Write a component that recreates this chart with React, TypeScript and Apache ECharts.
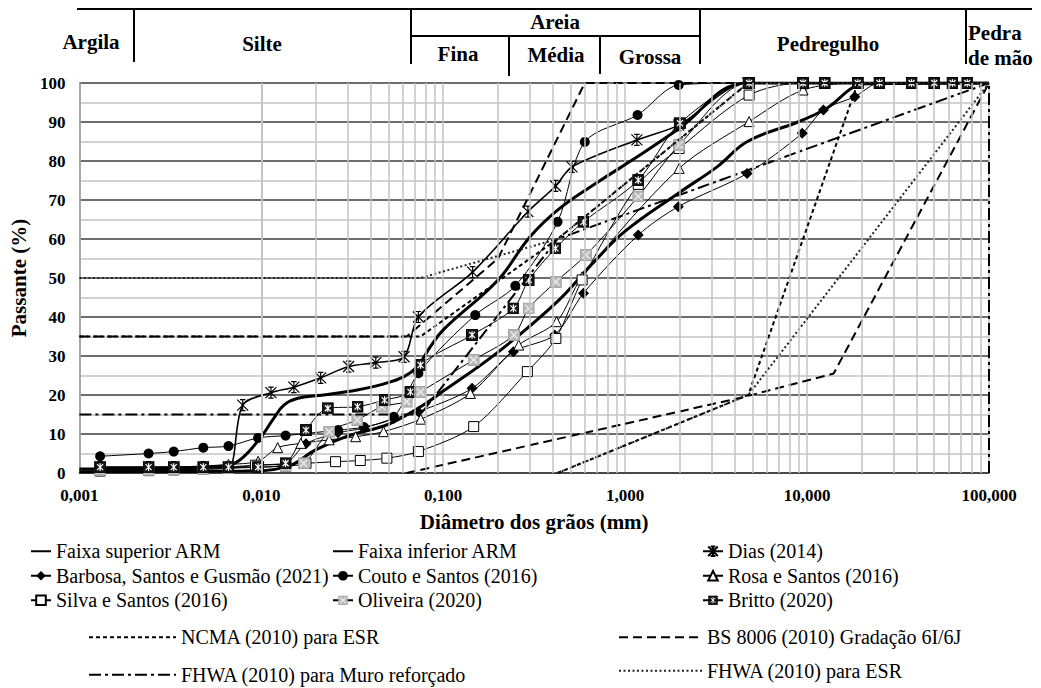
import React, { useEffect, useRef } from 'react';
import * as echarts from 'echarts';

const FONT = 'Liberation Serif';

// ---------- data: [diameter (mm), passing (%)] ----------
const faixaSuperior = [
  [0.001, 1], [0.003, 1.2], [0.0055, 1.6], [0.0072, 2.6], [0.0095, 8], [0.0117, 14], [0.0133, 17.4],
  [0.0157, 19.1], [0.022, 20], [0.0337, 21.3], [0.0451, 22.6], [0.0609, 24.7], [0.072, 27.3],
  [0.085, 32.4], [0.1, 36.7], [0.2, 49.5], [0.3, 60.6], [0.44, 68], [0.73, 75], [1.16, 81],
  [1.94, 88], [4.7, 100], [100, 100],
];
const faixaInferior = [
  [0.001, 0.3], [0.008, 0.5], [0.0136, 1.5], [0.02, 6], [0.03, 9.5], [0.05, 12.5], [0.075, 17],
  [0.1, 21], [0.2, 31], [0.425, 44], [0.67, 54], [1.0, 62], [2.0, 72], [3.2, 78.5], [4.7, 85],
  [8.9, 90], [12.3, 93], [21.4, 99.8], [100, 100],
];
const dias = [
  [0.0013, 1.5], [0.0024, 1.5], [0.0033, 1.5], [0.0048, 1.5], [0.0066, 1.5], [0.0079, 17.4],
  [0.0113, 20.6], [0.0151, 22], [0.0212, 24.4], [0.0302, 27.3], [0.0426, 28.3], [0.0609, 29.8],
  [0.073, 40], [0.145, 51.5], [0.292, 67], [0.415, 73.6], [0.51, 78.5], [1.16, 85.4], [1.97, 89.2],
  [4.7, 100], [9.5, 100], [19, 100], [25, 100], [37.5, 100], [50, 100],
];
const barbosa = [
  [0.0013, 1], [0.0024, 1], [0.0033, 1.2], [0.0048, 1.4], [0.0066, 1.6], [0.0096, 2], [0.0136, 2.5],
  [0.0176, 7.5], [0.0264, 10.3], [0.0366, 11.5], [0.0535, 14], [0.073, 15.7], [0.144, 21.7],
  [0.243, 31.1], [0.41, 35.4], [0.59, 46.1], [1.18, 61], [1.96, 68.3], [4.68, 76.8], [9.4, 87.1],
  [12.3, 93.1], [18.3, 96.5], [25, 100], [37.5, 100], [50, 100], [76, 100],
];
const couto = [
  [0.0013, 4.3], [0.0024, 5.0], [0.0033, 5.5], [0.0048, 6.5], [0.0066, 6.9], [0.0096, 9.0],
  [0.0136, 9.6], [0.0264, 11.0], [0.0366, 11.8], [0.0535, 14.4], [0.073, 25.6], [0.15, 40.5],
  [0.249, 48], [0.425, 64.4], [0.6, 84.9], [1.17, 91.8], [1.97, 99.5], [4.75, 100], [9.5, 100],
  [19, 100], [50, 100], [76, 100],
];
const rosa = [
  [0.0013, 1.2], [0.0024, 1.3], [0.0033, 1.5], [0.0048, 1.8], [0.0066, 2.2], [0.0096, 3],
  [0.0123, 6.5], [0.0165, 7.6], [0.0236, 8.5], [0.033, 9.3], [0.047, 10.6], [0.0752, 13.8],
  [0.141, 20.4], [0.26, 32.8], [0.42, 38.8], [0.58, 50.3], [1.98, 78.1], [4.8, 90.1], [9.5, 98.2],
  [19, 100], [25, 100],
];
const silva = [
  [0.0013, 0.5], [0.0024, 0.6], [0.0033, 0.8], [0.0048, 1], [0.0066, 1.2], [0.0093, 2.0],
  [0.0176, 2.5], [0.0256, 2.9], [0.035, 3.2], [0.049, 3.8], [0.073, 5.5], [0.147, 11.9], [0.29, 26],
  [0.416, 34.5], [0.58, 49.5], [1.18, 74], [1.98, 83.2], [4.8, 96.9], [9.5, 100], [19, 100],
];
const oliveira = [
  [0.0013, 0.8], [0.0024, 0.8], [0.0033, 0.9], [0.0048, 1], [0.0066, 1.2], [0.0096, 1.5],
  [0.0136, 1.8], [0.0171, 2.5], [0.0236, 10.6], [0.0337, 13.6], [0.046, 17], [0.063, 18.3],
  [0.075, 20.8], [0.147, 29], [0.245, 35.4], [0.295, 42.2], [0.416, 49], [0.61, 55.9], [1.18, 70.9],
  [1.98, 84.1], [4.75, 100], [9.5, 100],
];
const britto = [
  [0.0013, 1.5], [0.0024, 1.5], [0.0033, 1.5], [0.0048, 1.5], [0.0066, 1.5], [0.0096, 1.5],
  [0.0136, 2.5], [0.0176, 11], [0.0232, 16.6], [0.0338, 17], [0.0476, 18.7], [0.066, 20.8],
  [0.075, 27.7], [0.144, 35.4], [0.243, 42.2], [0.295, 49.5], [0.414, 57.6], [0.59, 64.4],
  [1.18, 75.1], [2.0, 89.7], [4.8, 100], [9.5, 100], [12.5, 100], [19, 100], [25, 100],
  [37.5, 100], [50, 100], [63, 100], [76, 100],
];
const GAP = ['-', '-'];
const ncma = [
  [0.001, 35], [0.075, 35], [0.425, 60], [4.75, 100], [100, 100], GAP,
  [0.425, 0], [4.75, 20], [19, 100],
];
const bs8006 = [
  [0.001, 35], [0.063, 35], [0.2, 55], [0.6, 100], [100, 100], GAP,
  [0.063, 0], [4.5, 19.5], [14, 25.5], [100, 100],
];
const fhwaMuro = [
  [0.001, 15], [0.075, 15], [0.425, 60], [100, 100], GAP,
  [100, 0], [100, 100],
];
const fhwaEsr = [
  [0.001, 50], [0.075, 50], [0.425, 60], [4.75, 100], [100, 100], GAP,
  [0.425, 0], [4.75, 20], [100, 100],
];

// minor vertical grid positions (2..9 x each decade)
const minorGridX: number[] = [];
[0.001, 0.01, 0.1, 1, 10].forEach((dec) => {
  for (let k = 2; k <= 9; k++) minorGridX.push(+(dec * k).toPrecision(3));
});

// ---------- symbols ----------
const diasSymbol = 'path://M0,0L10,10M10,0L0,10M5,0L5,10M2.5,0L7.5,0M2.5,10L7.5,10';
const svgUri = (s: string) => 'image://data:image/svg+xml;charset=utf-8,' + encodeURIComponent(s);
const brittoSymbol = svgUri(
  '<svg xmlns="http://www.w3.org/2000/svg" width="12" height="12" viewBox="0 0 12 12">' +
    '<rect x="0.5" y="0.5" width="11" height="11" fill="#151515" stroke="#000"/>' +
    '<path d="M3 3L9 9M9 3L3 9M6 2.2V9.8" stroke="#fff" stroke-width="1.2" fill="none"/></svg>'
);
const oliveiraSymbol = svgUri(
  '<svg xmlns="http://www.w3.org/2000/svg" width="12" height="12" viewBox="0 0 12 12">' +
    '<rect x="0.5" y="0.5" width="11" height="11" fill="#b8b8b8" stroke="#a0a0a0"/>' +
    '<path d="M2.5 2.5L9.5 9.5M9.5 2.5L2.5 9.5" stroke="#e8e8e8" stroke-width="1.5" fill="none"/></svg>'
);

function markerSeries(name: string, data: any[], symbol: string, symbolSize: number, itemStyle: any, lineWidth = 1) {
  return {
    name, type: 'line', data, symbol, symbolSize, showSymbol: true, smooth: 0.3,
    lineStyle: { color: '#000', width: lineWidth }, itemStyle, z: 3,
    emphasis: { disabled: true },
  };
}
function stdSeries(name: string, data: any[], dash: any, color = '#000') {
  return {
    name, type: 'line', data, symbol: 'none', showSymbol: false, connectNulls: false,
    lineStyle: { color, width: 2, type: dash }, itemStyle: { color }, z: 4,
    emphasis: { disabled: true },
  };
}

const headerLines = [
  [77, 9, 1032, 9],
  [134, 9, 134, 62],
  [411, 9, 411, 64],
  [411, 36, 700, 36],
  [509, 36, 509, 76],
  [600, 36, 600, 74],
  [700, 9, 700, 64],
  [966, 9, 966, 64],
];
const headerTexts: [string, number, number, string][] = [
  ['Argila', 91, 42, 'center'],
  ['Silte', 262, 44, 'center'],
  ['Areia', 555, 22, 'center'],
  ['Fina', 458, 54, 'center'],
  ['Média', 556, 55, 'center'],
  ['Grossa', 650, 57, 'center'],
  ['Pedregulho', 828, 44, 'center'],
  ['Pedra', 968, 33, 'left'],
  ['de mão', 968, 58, 'left'],
];

const noSym = (name: string) => ({ name, itemStyle: { opacity: 0 } });

export default function App() {
  const ref = useRef<HTMLDivElement>(null);
  useEffect(() => {
    document.body.style.margin = '0';
    const chart = echarts.init(ref.current!, null, { renderer: 'svg' });
    const legendBase = {
      orient: 'vertical', padding: 0, itemWidth: 20, itemHeight: 12, itemGap: 4,
      selectedMode: false,
      textStyle: { fontFamily: FONT, fontSize: 20, color: '#000', lineHeight: 20.5 },
    };
    const option: any = {
      animation: false,
      backgroundColor: '#fff',
      grid: { left: 79, top: 83, width: 910, height: 390 },
      xAxis: {
        type: 'log', logBase: 10, min: 0.001, max: 100, splitNumber: 5,
        axisLabel: {
          formatter: (v: number) => Number(v).toFixed(3).replace('.', ','),
          fontFamily: FONT, fontWeight: 'bold', fontSize: 17, color: '#000', margin: 14,
        },
        axisTick: { show: false },
        axisLine: { show: true, lineStyle: { color: '#3c3c3c', width: 1.5 } },
        splitLine: { show: true, lineStyle: { color: '#c3c3c3', width: 1.5 } },
        name: 'Diâmetro dos grãos (mm)', nameLocation: 'middle', nameGap: 38,
        nameTextStyle: { fontFamily: FONT, fontWeight: 'bold', fontSize: 21, color: '#000' },
      },
      yAxis: {
        type: 'value', min: 0, max: 100, interval: 10,
        axisLabel: { fontFamily: FONT, fontWeight: 'bold', fontSize: 17, color: '#000', margin: 14 },
        axisTick: { show: false },
        axisLine: { show: true, lineStyle: { color: '#9a9a9a', width: 1.5 } },
        splitLine: { show: true, lineStyle: { color: '#3c3c3c', width: 1.5 } },
        minorTick: { show: false, splitNumber: 2 },
        minorSplitLine: { show: true, lineStyle: { color: '#c3c3c3', width: 1.5 } },
        name: 'Passante (%)', nameLocation: 'middle', nameGap: 48,
        nameTextStyle: { fontFamily: FONT, fontWeight: 'bold', fontSize: 21, color: '#000' },
      },
      legend: [
        { ...legendBase, left: 30, top: 541, data: [noSym('Faixa superior ARM'), 'Barbosa, Santos e Gusmão (2021)', 'Silva e Santos (2016)'] },
        { ...legendBase, left: 332, top: 541, data: [noSym('Faixa inferior ARM'), 'Couto e Santos (2016)', 'Oliveira (2020)'] },
        { ...legendBase, left: 702, top: 541, data: ['Dias (2014)', 'Rosa e Santos (2016)', 'Britto (2020)'] },
        { ...legendBase, left: 88, top: 627, itemWidth: 87, itemGap: 17, data: [noSym('NCMA (2010) para ESR'), noSym('FHWA (2010) para Muro reforçado')] },
        { ...legendBase, left: 618, top: 627, itemWidth: 83, itemGap: 13, data: [noSym('BS 8006 (2010) Gradação 6I/6J'), noSym('FHWA (2010) para ESR')] },
      ],
      graphic: [
        ...headerLines.map(([x1, y1, x2, y2]) => ({
          type: 'line', silent: true, shape: { x1, y1, x2, y2 },
          style: { stroke: '#000', lineWidth: 2 },
        })),
        ...headerTexts.map(([text, x, y, align]) => ({
          type: 'text', silent: true, x, y,
          style: {
            text, fontFamily: FONT, fontWeight: 'bold', fontSize: 21, fill: '#000',
            align, verticalAlign: 'middle',
          },
        })),
      ],
      series: [
        {
          type: 'line', data: [[0.001, 0]], symbol: 'none', silent: true, z: 1,
          lineStyle: { opacity: 0 },
          markLine: {
            silent: true, symbol: ['none', 'none'], label: { show: false },
            lineStyle: { color: '#c3c3c3', width: 1.5, type: 'solid' },
            emphasis: { disabled: true },
            data: minorGridX.map((v) => ({ xAxis: v })),
          },
        },
        {
          name: 'Faixa superior ARM', type: 'line', data: faixaSuperior, symbol: 'none', smooth: 0.4,
          lineStyle: { color: '#000', width: 3 }, itemStyle: { color: '#000' }, z: 3,
        },
        {
          name: 'Faixa inferior ARM', type: 'line', data: faixaInferior, symbol: 'none', smooth: 0.4,
          lineStyle: { color: '#000', width: 3 }, itemStyle: { color: '#000' }, z: 3,
        },
        markerSeries('Dias (2014)', dias, diasSymbol, 11, { color: '#000', borderColor: '#000', borderWidth: 1.2 }, 1.6),
        markerSeries('Barbosa, Santos e Gusmão (2021)', barbosa, 'diamond', 11, { color: '#000' }),
        markerSeries('Couto e Santos (2016)', couto, 'circle', 10, { color: '#000' }),
        markerSeries('Rosa e Santos (2016)', rosa, 'triangle', 10, { color: '#fff', borderColor: '#000', borderWidth: 1 }),
        markerSeries('Silva e Santos (2016)', silva, 'rect', 10, { color: '#fff', borderColor: '#000', borderWidth: 1 }),
        markerSeries('Oliveira (2020)', oliveira, oliveiraSymbol, 12, { color: '#b8b8b8' }),
        markerSeries('Britto (2020)', britto, brittoSymbol, 12, { color: '#151515' }),
        stdSeries('NCMA (2010) para ESR', ncma, [4, 3]),
        stdSeries('BS 8006 (2010) Gradação 6I/6J', bs8006, [9, 5]),
        stdSeries('FHWA (2010) para Muro reforçado', fhwaMuro, [12, 4, 3, 4]),
        stdSeries('FHWA (2010) para ESR', fhwaEsr, [2, 2.5], '#222'),
      ],
    };
    chart.setOption(option);
    return () => chart.dispose();
  }, []);
  return <div ref={ref} style={{ width: 1041, height: 688, background: '#fff' }} />;
}
